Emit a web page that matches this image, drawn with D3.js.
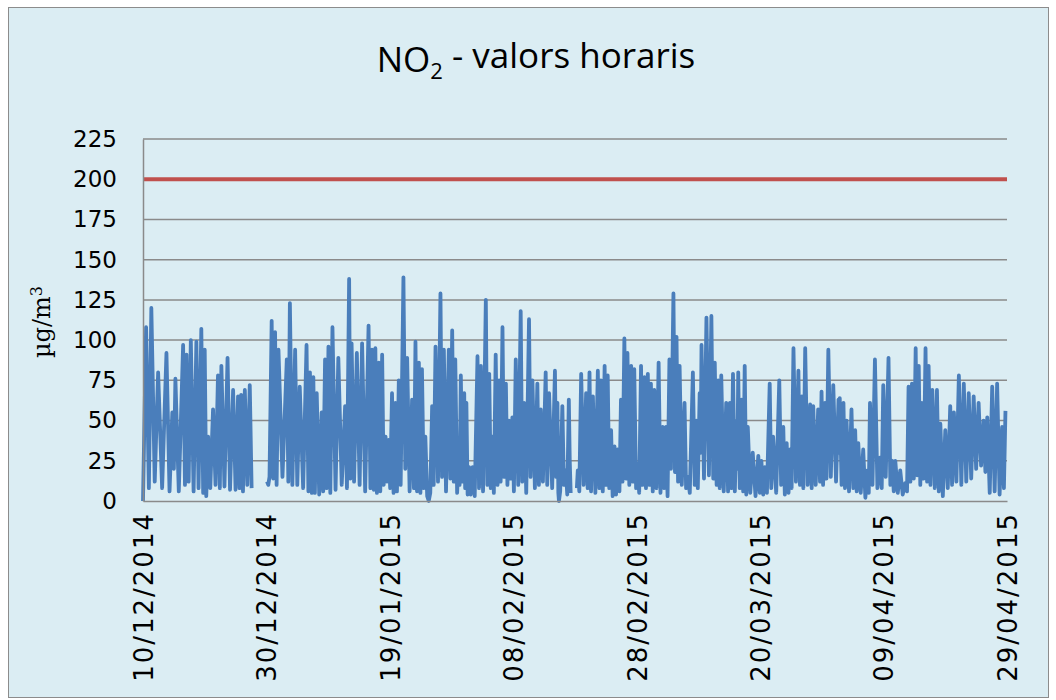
<!DOCTYPE html>
<html>
<head>
<meta charset="utf-8">
<script src="https://cdn.jsdelivr.net/npm/d3@7"></script>
<style>
  body { margin: 0; background: #fff; }
  svg { display: block; }
</style>
</head>
<body>
<div id="chart"></div>
<script>
// x axis labels, every 20 days
var tickLabels = ["10/12/2014", "30/12/2014", "19/01/2015", "08/02/2015",
  "28/02/2015", "20/03/2015", "09/04/2015", "29/04/2015"];
var yTicks = [0, 25, 50, 75, 100, 125, 150, 175, 200, 225];
var limitValue = 200;

// hourly NO2 readings: [days since 10/12/2014, µg/m3]
// null marks a gap in the record
var readings = [
  [0.0,0],[0.5,108],[0.95,8],[1.35,120],[1.9,12],[2.45,80],[3.1,8],[3.8,92],[4.3,6],[4.75,55],
  [5.0,20],[5.25,76],[5.8,6],[6.5,97],[6.8,10],[7.05,91],[7.4,12],[7.75,100],[8.2,6],[8.65,99],
  [9.0,8],[9.45,107],[9.75,5],[10.0,94],[10.25,3],[10.55,40],[10.9,8],[11.35,57],[11.75,10],[12.15,78],
  [12.45,8],[12.7,84],[13.2,9],[13.7,89],[14.1,7],[14.6,69],[15.0,7],[15.4,65],[15.65,8],[15.9,66],
  [16.2,6],[16.5,69],[16.9,10],[17.3,72],[17.6,8],[18.5,null],
  [20.1,12],[20.3,10],[20.5,15],[20.85,112],[21.1,14],[21.4,105],[21.65,10],[21.95,94],[22.6,15],[23.3,88],
  [23.55,12],[23.8,123],[24.2,10],[24.65,94],[25.0,10],[25.4,71],[25.95,8],[26.5,97],[26.8,6],[27.05,80],
  [27.35,5],[27.6,77],[27.85,5],[28.15,67],[28.55,4],[28.95,55],[29.2,6],[29.5,88],[29.75,8],[30.05,96],
  [30.35,5],[30.7,108],[31.2,7],[31.65,89],[32.2,10],[32.75,59],[33.05,8],[33.4,138],[33.6,14],[33.8,98],
  [34.2,12],[34.65,92],[35.1,10],[35.5,98],[36.0,6],[36.55,109],[36.85,8],[37.1,94],[37.4,7],[37.65,95],
  [37.9,5],[38.2,86],[38.45,6],[38.75,91],[39.0,10],[39.3,40],[39.55,12],[39.8,38],[40.05,8],[40.35,67],
  [40.6,5],[40.9,61],[41.15,6],[41.45,75],[41.75,10],[42.2,139],[42.5,20],[42.8,89],[43.2,6],[43.6,63],
  [43.9,8],[44.15,99],[44.4,6],[44.7,86],[44.95,5],[45.2,82],[45.5,8],[45.75,40],[46.05,3],[46.3,0],
  [46.55,5],[46.85,59],[47.1,10],[47.4,96],[47.8,12],[48.2,129],[48.45,15],[48.75,94],[49.1,6],[49.55,94],
  [49.8,14],[50.1,106],[50.35,12],[50.6,88],[50.9,5],[51.15,27],[51.3,10],[51.5,78],[51.75,12],[52.05,67],
  [52.2,8],[52.4,61],[52.6,4],[52.85,21],[53.1,4],[53.4,21],[53.75,3],[54.2,90],[54.45,8],[54.75,84],
  [55.1,6],[55.55,125],[55.8,10],[56.1,79],[56.35,8],[56.6,40],[56.85,5],[57.15,91],[57.45,10],[57.7,75],
  [57.95,12],[58.25,108],[58.5,15],[58.8,73],[59.05,10],[59.3,50],[59.6,14],[59.85,52],[60.1,6],[60.4,88],
  [60.8,10],[61.2,118],[61.45,12],[61.75,61],[62.1,5],[62.55,113],[62.8,15],[63.1,75],[63.5,8],[63.9,73],
  [64.15,10],[64.45,57],[64.8,12],[65.25,80],[65.5,10],[65.8,67],[66.3,8],[66.75,81],[66.95,15],[67.15,61],
  [67.3,5],[67.4,0],[67.6,6],[67.95,59],[68.2,10],[68.5,19],[68.75,4],[69.0,63],[69.15,25],[69.3,5],[69.8,null],
  [70.3,8],[70.45,19],[70.7,6],[71.0,79],[71.4,10],[71.8,67],[72.05,8],[72.35,80],[72.6,6],[72.9,65],
  [73.3,5],[73.7,81],[73.95,8],[74.2,75],[74.5,6],[74.8,84],[75.05,10],[75.3,78],[75.55,8],[75.85,44],
  [76.1,3],[76.4,34],[76.65,4],[76.9,32],[77.2,6],[77.45,63],[77.7,12],[78.0,101],[78.25,14],[78.5,92],
  [78.8,10],[79.1,84],[79.35,12],[79.6,82],[79.9,8],[80.15,23],[80.4,5],[80.7,84],[80.95,10],[81.25,77],
  [81.5,8],[81.8,79],[82.05,10],[82.3,73],[82.6,6],[82.85,69],[83.2,8],[83.55,86],[83.85,5],[84.2,46],
  [84.45,8],[84.75,46],[85.0,3],[85.3,88],[85.55,20],[85.95,129],[86.2,18],[86.45,102],[86.7,12],[86.95,84],
  [87.3,10],[87.75,61],[88.0,8],[88.3,15],[88.6,5],[89.1,80],[89.4,10],[89.65,50],[89.9,8],[90.2,67],
  [90.35,30],[90.5,97],[90.9,14],[91.3,114],[91.7,16],[92.1,115],[92.4,14],[92.65,86],[92.95,10],[93.2,75],
  [93.45,8],[93.7,78],[94.1,6],[94.5,61],[94.8,6],[95.1,61],[95.35,8],[95.6,79],[95.9,6],[96.2,50],
  [96.3,20],[96.45,80],[96.7,8],[97.0,63],[97.25,6],[97.5,84],[97.75,4],[98.0,46],[98.4,5],[98.8,30],
  [99.25,3],[99.7,28],[99.95,5],[100.2,25],[100.5,4],[100.75,21],[101.1,5],[101.55,73],[101.8,8],[102.1,40],
  [102.6,5],[103.1,75],[103.4,10],[103.75,46],[104.0,4],[104.3,36],[104.6,5],[104.85,32],[105.1,8],[105.4,95],
  [105.8,12],[106.2,81],[106.45,10],[106.75,65],[107.0,8],[107.3,95],[107.7,10],[108.1,60],[108.35,8],[108.6,59],
  [109.0,10],[109.4,57],[109.7,12],[109.95,68],[110.2,10],[110.5,61],[110.75,14],[111.05,94],[111.45,15],[111.85,72],
  [112.3,12],[112.7,63],[112.8,30],[112.9,64],[113.2,10],[113.5,61],[113.75,8],[114.0,50],[114.4,6],[114.8,57],
  [115.1,8],[115.4,44],[115.65,6],[115.9,36],[116.3,5],[116.7,32],[117.05,2],[117.4,19],[117.6,5],[117.8,61],
  [118.2,10],[118.6,88],[119.0,8],[119.4,27],[119.7,8],[119.95,72],[120.35,15],[120.8,89],[121.1,10],[121.4,25],
  [121.65,6],[121.9,25],[122.3,5],[122.7,19],[123.1,4],[123.5,11],[123.8,6],[124.05,71],[124.35,12],[124.6,73],
  [124.9,14],[125.2,95],[125.45,16],[125.7,84],[125.95,10],[126.2,61],[126.5,14],[126.8,95],[127.05,12],[127.3,84],
  [127.6,10],[127.9,69],[128.3,8],[128.65,69],[128.95,6],[129.2,48],[129.6,3],[130.0,44],[130.4,8],[130.8,59],
  [131.1,10],[131.4,55],[131.8,12],[132.2,78],[132.6,10],[133.0,73],[133.4,12],[133.8,67],[134.2,14],[134.6,65],
  [135.0,20],[135.4,61],[135.8,22],[136.2,50],[136.5,18],[136.8,52],[137.2,5],[137.6,71],[138.0,6],[138.4,73],
  [138.8,4],[139.2,46],[139.5,8],[139.75,56]
];

var width = 1056, height = 700;
var margin = { top: 139, right: 49, bottom: 199, left: 143 };

var svg = d3.select("#chart").append("svg")
  .attr("width", width)
  .attr("height", height);

// chart area
svg.append("rect")
  .attr("x", 8.5).attr("y", 7.5)
  .attr("width", 1040).attr("height", 690)
  .attr("fill", "#dbedf3")
  .attr("stroke", "#8c8c8c")
  .attr("stroke-width", 1);

var parseDate = d3.timeParse("%d/%m/%Y");
var t0 = parseDate(tickLabels[0]);
var dayMs = 864e5;

var x = d3.scaleTime()
  .domain([t0, parseDate(tickLabels[tickLabels.length - 1])])
  .range([margin.left, width - margin.right]);

var y = d3.scaleLinear()
  .domain([0, 225])
  .range([height - margin.bottom, margin.top]);

// gridlines
svg.append("g")
  .selectAll("line")
  .data(yTicks.filter(function(d) { return d > 0; }))
  .enter().append("line")
  .attr("x1", margin.left).attr("x2", width - margin.right)
  .attr("y1", function(d) { return y(d); })
  .attr("y2", function(d) { return y(d); })
  .attr("stroke", "#8a8a8a")
  .attr("stroke-width", 1.5);

// limit line
svg.append("line")
  .attr("x1", margin.left).attr("x2", width - margin.right)
  .attr("y1", y(limitValue)).attr("y2", y(limitValue))
  .attr("stroke", "#c0504d")
  .attr("stroke-width", 4);

var line = d3.line()
  .defined(function(d) { return d[1] != null; })
  .x(function(d) { return x(new Date(+t0 + d[0] * dayMs)); })
  .y(function(d) { return y(d[1]); });

svg.append("path")
  .datum(readings)
  .attr("fill", "none")
  .attr("stroke", "#4a7ebb")
  .attr("stroke-width", 3.8)
  .attr("stroke-linejoin", "round")
  .attr("d", line);

// y axis
var yAxis = svg.append("g")
  .attr("transform", "translate(" + margin.left + ",0)")
  .call(d3.axisLeft(y).tickValues(yTicks).tickSize(0).tickPadding(26));
yAxis.select(".domain").attr("stroke", "#8a8a8a").attr("stroke-width", 1.5);
yAxis.selectAll("text")
  .attr("fill", "#000")
  .style("font-family", "'DejaVu Sans', sans-serif")
  .style("font-size", "23px");

// x axis
var xAxis = svg.append("g")
  .attr("transform", "translate(0," + (height - margin.bottom) + ")")
  .call(d3.axisBottom(x)
    .tickValues(tickLabels.map(parseDate))
    .tickFormat(d3.timeFormat("%d/%m/%Y"))
    .tickSize(0));
xAxis.select(".domain").attr("stroke", "#8a8a8a").attr("stroke-width", 1.5);
xAxis.selectAll("text")
  .attr("fill", "#000")
  .style("font-family", "'DejaVu Sans', sans-serif")
  .style("font-size", "26px")
  .style("letter-spacing", "2px")
  .attr("text-anchor", "end")
  .attr("transform", "rotate(-90)")
  .attr("x", -11)
  .attr("y", 0)
  .attr("dy", "0.36em");

// y axis title
var yTitle = svg.append("text")
  .attr("transform", "translate(50,322) rotate(-90)")
  .attr("text-anchor", "middle")
  .style("font-family", "'DejaVu Serif', serif")
  .style("font-size", "24px")
  .attr("fill", "#000");
yTitle.append("tspan").text("µg/m");
yTitle.append("tspan").attr("dy", "-0.5em").style("font-size", "16px").text("3");

// chart title
var title = svg.append("text")
  .attr("x", 536).attr("y", 72)
  .attr("text-anchor", "middle")
  .style("font-family", "'Open Sans', sans-serif")
  .style("font-size", "35px")
  .attr("fill", "#000");
title.append("tspan").text("NO");
title.append("tspan").attr("dy", "0.3em").style("font-size", "22px").text("2");
title.append("tspan").attr("dy", "-0.3em").text(" - valors horaris");
</script>
</body>
</html>
